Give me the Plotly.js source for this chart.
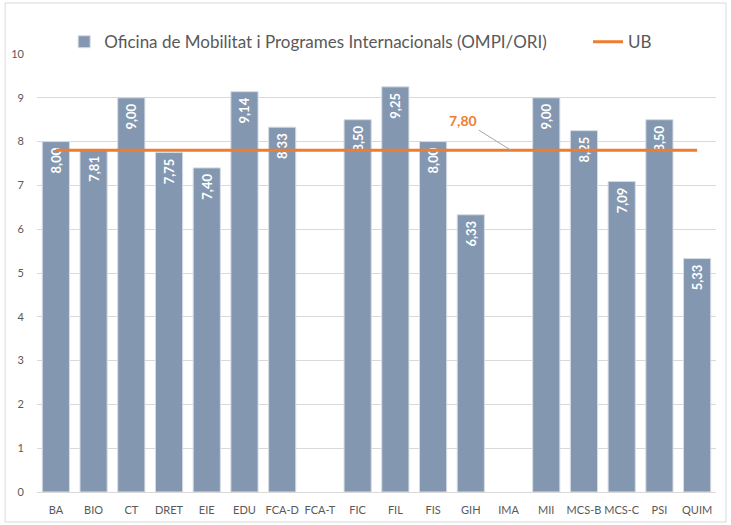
<!DOCTYPE html>
<html>
<head>
<meta charset="utf-8">
<script src="https://cdn.plot.ly/plotly-3.0.1.min.js"></script>
<style>html,body{margin:0;padding:0;background:#fff;}#chart{width:731px;height:525px;}</style>
</head>
<body>
<div id="chart"></div>
<script>
const categories = ["BA","BIO","CT","DRET","EIE","EDU","FCA-D","FCA-T","FIC","FIL","FIS","GIH","IMA","MII","MCS-B","MCS-C","PSI","QUIM"];
const ompiValues = [8.00,7.81,9.00,7.75,7.40,9.14,8.33,null,8.50,9.25,8.00,6.33,null,9.00,8.25,7.09,8.50,5.33];
const ubValue = 7.80;
const ubValues = categories.map(() => ubValue);
const yTicks = [0,1,2,3,4,5,6,7,8,9,10];

const fmt = v => v == null ? "" : v.toFixed(2).replace(".", ",");

const font = "Lato, 'Open Sans', sans-serif";

const traces = [
  {
    type: "bar",
    name: "Oficina de Mobilitat i Programes Internacionals (OMPI/ORI)",
    legend: "legend",
    x: categories,
    y: ompiValues,
    text: ompiValues.map(v => v == null ? "" : fmt(v) + "\u00A0"),
    textposition: "inside",
    insidetextanchor: "end",
    textangle: -90,
    constraintext: "none",
    textfont: {color: "#ffffff", size: 13, family: font, weight: "bold"},
    marker: {color: "#8497B0", line: {color: "#D6DCE5", width: 1}},
    hoverinfo: "x+y"
  },
  {
    type: "scatter",
    mode: "lines",
    name: "UB",
    legend: "legend2",
    x: categories,
    y: ubValues,
    line: {color: "#ED7D31", width: 3}
  }
];

const legendBase = {
  orientation: "h",
  yanchor: "middle",
  y: 1.027,
  xanchor: "left",
  font: {size: 17, color: "#595959", family: font},
  bgcolor: "rgba(0,0,0,0)"
};

const layout = {
  width: 731,
  height: 525,
  margin: {l: 37, r: 15, t: 54, b: 33},
  paper_bgcolor: "#ffffff",
  plot_bgcolor: "#ffffff",
  font: {family: font, color: "#595959", size: 11},
  bargap: 0.28,
  showlegend: true,
  legend: Object.assign({}, legendBase, {x: 0.04}),
  legend2: Object.assign({}, legendBase, {x: 0.8115}),
  xaxis: {
    type: "category",
    showgrid: false,
    showline: true,
    linecolor: "#D9D9D9",
    ticks: "",
    ticklabelstandoff: 8,
    tickfont: {size: 11, color: "#595959"},
    fixedrange: true
  },
  yaxis: {
    range: [0, 10],
    tickvals: yTicks,
    ticktext: yTicks.map(String),
    showgrid: true,
    gridcolor: "#D9D9D9",
    gridwidth: 1,
    zeroline: false,
    showline: false,
    ticks: "",
    ticklabelstandoff: 12,
    tickfont: {size: 11, color: "#595959"},
    fixedrange: true
  },
  annotations: [
    {
      x: 12.07, y: ubValue,
      xref: "x", yref: "y",
      text: "<b>" + fmt(ubValue) + "</b>",
      font: {size: 14, color: "#ED7D31", family: font},
      showarrow: true,
      arrowhead: 0,
      arrowwidth: 1,
      arrowcolor: "#A6A6A6",
      ax: -48, ay: -30,
      standoff: 0
    }
  ],
  shapes: [
    {
      type: "rect", xref: "paper", yref: "paper",
      x0: -0.047, x1: 1.0147, y0: -0.0685, y1: 1.1164,
      line: {color: "#D9D9D9", width: 1},
      fillcolor: "rgba(0,0,0,0)",
      layer: "below"
    }
  ]
};

Plotly.newPlot("chart", traces, layout, {displayModeBar: false, staticPlot: true});
</script>
</body>
</html>
